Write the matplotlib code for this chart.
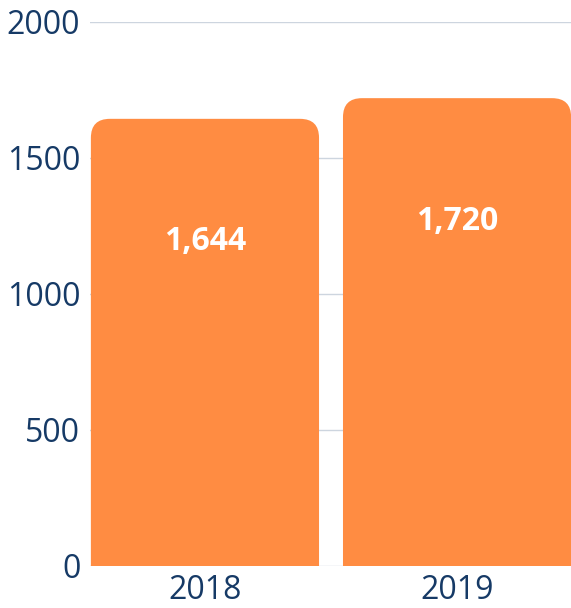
import matplotlib
matplotlib.use("Agg")
import matplotlib.pyplot as plt
from matplotlib.patches import FancyBboxPatch

categories = ["2018", "2019"]
values = [1644, 1720]
value_labels = ["1,644", "1,720"]
yticks = [0, 500, 1000, 1500, 2000]

BAR = "#FF8C42"
NAVY = "#163A66"
GRID = "#CDD5DF"

plt.rcParams["font.family"] = ["Open Sans", "DejaVu Sans"]

fig = plt.figure(figsize=(5.71, 6.08), dpi=100)
ax = fig.add_axes([90 / 571, 42 / 608, 481 / 571, 544 / 608])

x = list(range(len(categories)))
width = 0.905
ax.set_xlim(-0.456, 1.452)
ax.set_ylim(0, 2000)

bars = ax.bar(x, values, width=width, color=BAR, zorder=2)

# replace with rounded-top bars
fig.canvas.draw()
p0 = ax.transData.transform((0, 0))
p1 = ax.transData.transform((1, 1))
px_per_x = p1[0] - p0[0]
px_per_y = p1[1] - p0[1]
aspect = px_per_x / px_per_y
r_px = 19
r = r_px / px_per_x
for b in bars:
    b.set_visible(False)
    bx, bw, bh = b.get_x(), b.get_width(), b.get_height()
    ext = 300
    patch = FancyBboxPatch((bx, -ext), bw, bh + ext,
                           boxstyle=f"round,pad=0,rounding_size={r}",
                           mutation_aspect=aspect, facecolor=BAR,
                           edgecolor="none", zorder=2)
    ax.add_patch(patch)

for xi, v, lab in zip(x, values, value_labels):
    ax.annotate(lab, (xi, v), xytext=(0, -123), textcoords="offset pixels",
                ha="center", va="center", color="white", fontsize=23,
                fontweight="bold", zorder=3)

ax.set_yticks(yticks)
ax.set_yticklabels([str(t) for t in yticks])
ax.set_xticks(x)
ax.set_xticklabels(categories)
ax.yaxis.grid(True, color=GRID, linewidth=1, zorder=0)
ax.set_axisbelow(True)
for s in ax.spines.values():
    s.set_visible(False)
ax.tick_params(axis="both", length=0, labelsize=23, labelcolor=NAVY)
ax.tick_params(axis="y", pad=7)
ax.tick_params(axis="x", pad=6)

fig.savefig("out.png", dpi=100)
